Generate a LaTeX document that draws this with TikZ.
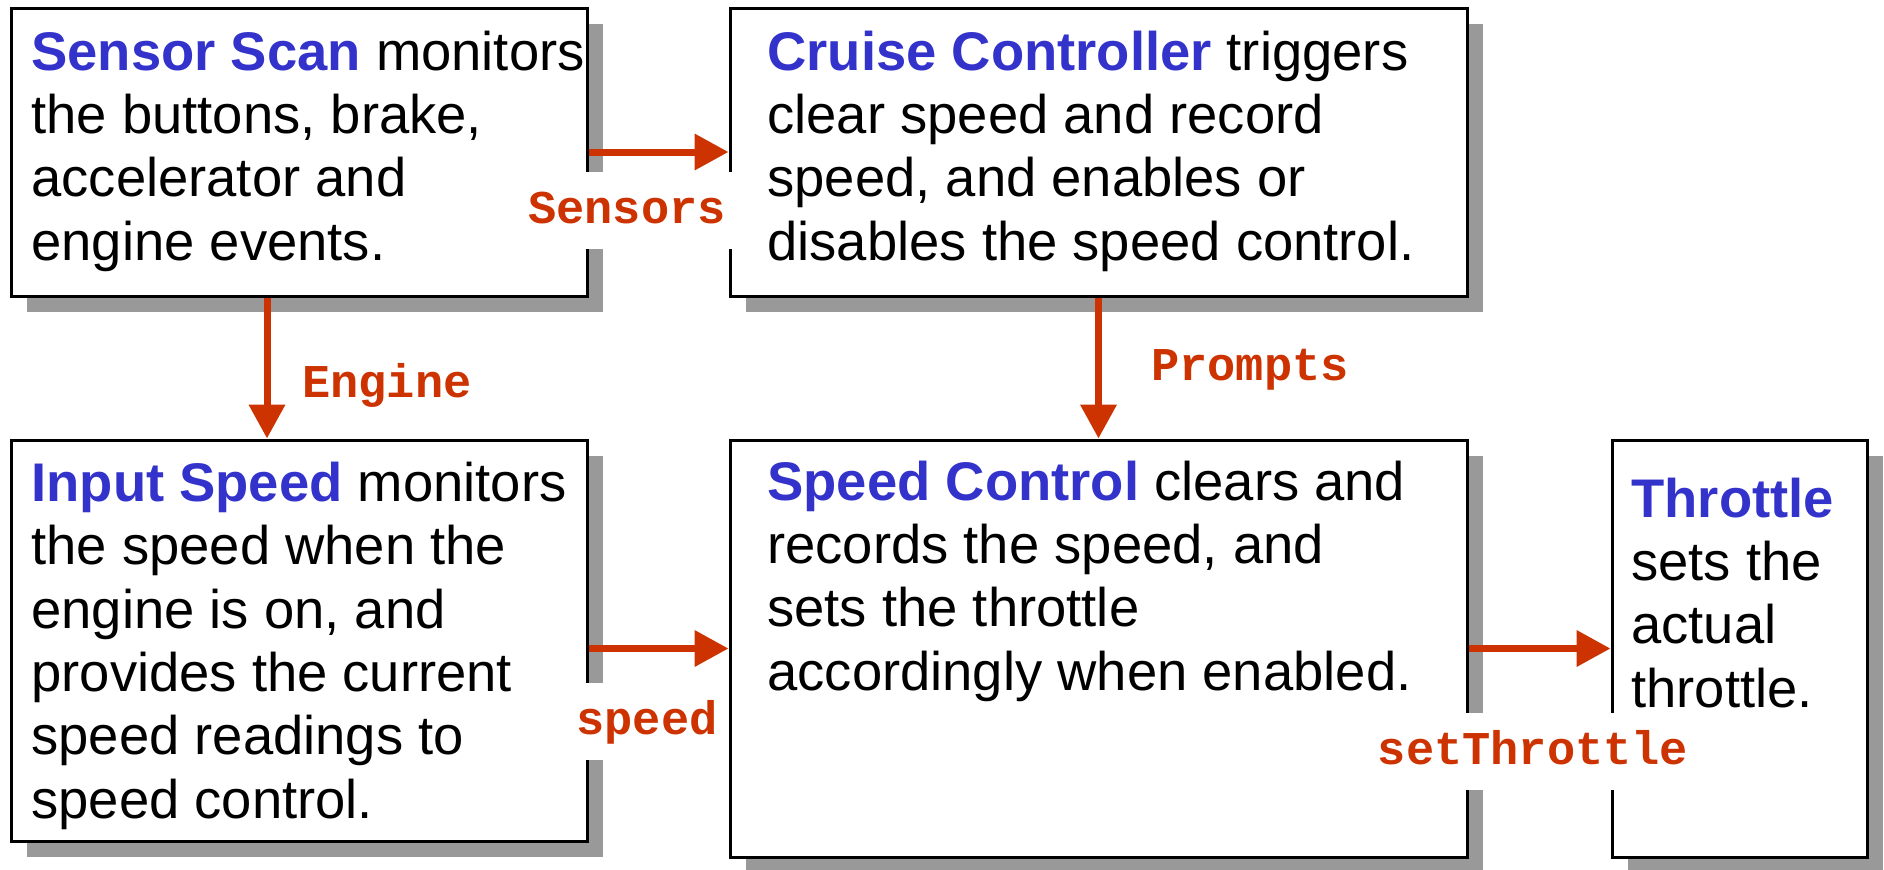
\documentclass[tikz,border=0pt]{standalone}
\usepackage{fontspec}
\setmainfont{Liberation Sans}
\setmonofont{Liberation Mono}
\usetikzlibrary{arrows.meta,shadows}
\definecolor{namecol}{HTML}{3333CC}
\definecolor{flowcol}{HTML}{CC3300}
\definecolor{shadecol}{HTML}{999999}
\newcommand{\procname}[1]{\textcolor{namecol}{\bfseries #1}}
\tikzset{
  box/.style={draw, line width=1.5pt, fill=white, inner sep=0pt,
    drop shadow={shadow xshift=8pt, shadow yshift=-8pt, fill=shadecol, opacity=1}},
  desc/.style={anchor=base west, align=left, inner sep=0pt,
    font=\fontsize{27.2}{31.65}\selectfont},
  flow/.style={draw=flowcol, line width=3.5pt, -{Triangle[length=17pt,width=17.5pt]}},
  lbl/.style={fill=white, text=flowcol, font=\ttfamily\bfseries\fontsize{23.5}{28}\selectfont,
    text height=13.5pt, text depth=0pt, inner xsep=4pt, inner ysep=0pt, minimum height=38.5pt}
}
\begin{document}
\begin{tikzpicture}[x=0.5pt,y=-0.5pt]
    \useasboundingbox (0,0) rectangle (1884,869);

    % Boxes
    \node[box, minimum width=288pt, minimum height=144pt] (ss) at (299,152) {};
    \node[box, minimum width=368.5pt, minimum height=144pt] (cc) at (1098.5,152) {};
    \node[box, minimum width=288pt, minimum height=200.5pt] (is) at (299,640.5) {};
    \node[box, minimum width=368.5pt, minimum height=208.5pt] (sc) at (1098.5,648.5) {};
    \node[box, minimum width=127.5pt, minimum height=208.5pt] (th) at (1739.5,648.5) {};

    % Descriptions (placed at the baseline of their last line)
    \node[desc] (sstext) at (31,260) {\procname{Sensor Scan} monitors\\the buttons, brake,\\accelerator and\\engine events.};
    \node[desc] (cctext) at (767,260) {\procname{Cruise Controller} triggers\\clear speed and record\\speed, and enables or\\disables the speed control.};
    \node[desc] (istext) at (31,818) {\procname{Input Speed} monitors\\the speed when the\\engine is on, and\\provides the current\\speed readings to\\speed control.};
    \node[desc] (sctext) at (767,690) {\procname{Speed Control} clears and\\records the speed, and\\sets the throttle\\accordingly when enabled.};
    \node[desc] (thtext) at (1631,707) {\procname{Throttle}\\sets the\\actual\\throttle.};

    % Arrows
    \draw[flow] (ss.east) -- (cc.west);
    \draw[flow] ([xshift=-16pt]ss.south) -- ([xshift=-16pt]is.north);
    \draw[flow] (cc.south) -- (sc.north);
    \draw[flow] (is.east |- sc.west) -- (sc.west);
    \draw[flow] (sc.east) -- (th.west);

    % Labels
    \node[lbl] (sensors) at (627,210) {Sensors};
    \node[lbl] (engine) at (387,384) {Engine};
    \node[lbl] (prompts) at (1250,367) {Prompts};
    \node[lbl] (speed) at (647,721) {speed};
    \node[lbl] (setthrottle) at (1533,751) {setThrottle};
\end{tikzpicture}
\end{document}
